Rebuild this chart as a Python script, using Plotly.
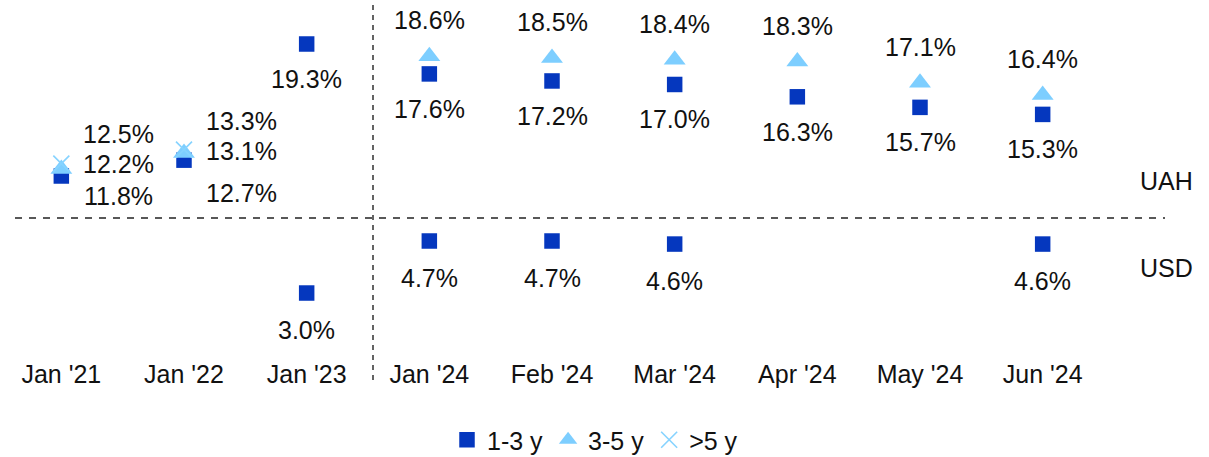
import plotly.graph_objects as go

categories = ["Jan '21", "Jan '22", "Jan '23", "Jan '24", "Feb '24", "Mar '24", "Apr '24", "May '24", "Jun '24"]
uah_1_3 = [11.8, 12.7, 19.3, 17.6, 17.2, 17.0, 16.3, 15.7, 15.3]
uah_3_5 = [12.2, 13.1, None, 18.6, 18.5, 18.4, 18.3, 17.1, 16.4]
uah_5p = [12.5, 13.3, None, None, None, None, None, None, None]
usd_1_3 = [None, None, 3.0, 4.7, 4.7, 4.6, None, None, 4.6]

series_names = ["1-3 y", "3-5 y", ">5 y"]

DARK = "#0537BE"
LIGHT = "#7DCEFF"
XCOL = "#86D3FF"
FONT = "Liberation Sans, Arial, sans-serif"
TXT = "#111111"
FS = 25

W, H = 1209, 457
ML, MR, MT, MB = 0, 105, 0, 105
PW, PH = W - ML - MR, H - MT - MB


def py(pix):
    """absolute page pixel (from top) -> paper fraction"""
    return (H - MB - pix) / PH


SPLIT_PX = 218
split = py(SPLIT_PX)

fig = go.Figure()

fig.add_trace(go.Scatter(x=categories, y=uah_1_3, mode="markers", name=series_names[0],
                         marker=dict(symbol="square", size=15.5, color=DARK), yaxis="y", cliponaxis=False))
fig.add_trace(go.Scatter(x=categories, y=uah_3_5, mode="markers", name=series_names[1],
                         marker=dict(symbol="triangle-up", size=19, color=LIGHT), yaxis="y", cliponaxis=False))
fig.add_trace(go.Scatter(x=categories, y=uah_5p, mode="markers", name=series_names[2],
                         marker=dict(symbol="x-thin-open", size=16, color=XCOL, line=dict(width=1.6, color=XCOL)),
                         yaxis="y", cliponaxis=False))
fig.add_trace(go.Scatter(x=categories, y=usd_1_3, mode="markers", name=series_names[0], showlegend=False,
                         marker=dict(symbol="square", size=15.5, color=DARK), yaxis="y2", cliponaxis=False))

# label placement (styling): default below for 1-3 y, above for 3-5 y; side labels for first two years
side_offsets = {
    (0, 0): -20, (0, 1): 5, (0, 2): 30,
    (1, 0): -33, (1, 1): 2, (1, 2): 29,
}
annotations = []
for si, vals in enumerate([uah_1_3, uah_3_5, uah_5p]):
    for ci, v in enumerate(vals):
        if v is None:
            continue
        if ci in (0, 1):
            xs, ys = 57, side_offsets[(ci, si)]
        else:
            xs, ys = 0, (-35 if si == 0 else 36)
        annotations.append(dict(x=categories[ci], y=v, xref="x", yref="y", text=f"{v:.1f}%",
                                showarrow=False, xshift=xs, yshift=ys,
                                font=dict(size=FS, color=TXT, family=FONT)))
for ci, v in enumerate(usd_1_3):
    if v is None:
        continue
    annotations.append(dict(x=categories[ci], y=v, xref="x", yref="y2", text=f"{v:.1f}%",
                            showarrow=False, yshift=-37, font=dict(size=FS, color=TXT, family=FONT)))

annotations.append(dict(x=1166 / PW, y=py(181), xref="paper", yref="paper", text="UAH",
                        xanchor="center", yanchor="middle",
                        showarrow=False, font=dict(size=FS, color=TXT, family=FONT)))
annotations.append(dict(x=1166 / PW, y=py(268), xref="paper", yref="paper", text="USD",
                        xanchor="center", yanchor="middle",
                        showarrow=False, font=dict(size=FS, color=TXT, family=FONT)))

shapes = [
    dict(type="line", xref="paper", yref="paper", x0=15 / PW, x1=1165 / PW, y0=split, y1=split,
         line=dict(color="#222222", width=1.4, dash="7px,7px")),
    dict(type="line", xref="paper", yref="paper", x0=373 / PW, x1=373 / PW, y0=py(5), y1=py(382),
         line=dict(color="#222222", width=1.4, dash="5px,5px")),
]

# y ranges derived from reference pixel scale: UAH 19.3% at 44px, 17.6 px per pt; USD 4.7% at 241px, 30.6 px per pt
top_px, bot_px = MT, H - MB
uah_range = [19.3 - (SPLIT_PX - 44) / 17.6, 19.3 + (44 - top_px) / 17.6]
usd_range = [4.7 - (bot_px - 241) / 30.6, 4.7 + (241 - SPLIT_PX) / 30.6]

fig.update_layout(
    width=W, height=H,
    margin=dict(l=ML, r=MR, t=MT, b=MB, autoexpand=False),
    paper_bgcolor="white", plot_bgcolor="white",
    font=dict(family=FONT, size=FS, color=TXT),
    xaxis=dict(type="category", range=[-0.5, 8.5], showgrid=False, zeroline=False, showline=False,
               ticks="", anchor="y2", ticklabelstandoff=5, tickfont=dict(size=FS, color=TXT, family=FONT)),
    yaxis=dict(domain=[split, 1], range=uah_range, visible=False),
    yaxis2=dict(domain=[0, split], range=usd_range, visible=False),
    showlegend=True,
    legend=dict(orientation="h", x=595 / PW, xanchor="center", y=py(440), yanchor="middle",
                font=dict(size=FS, color=TXT, family=FONT), itemsizing="trace", itemwidth=30,
                bgcolor="rgba(0,0,0,0)"),
    annotations=annotations,
    shapes=shapes,
)

fig.write_html("out.html", config={"displayModeBar": False},
               post_script="document.body.style.margin='0';")
